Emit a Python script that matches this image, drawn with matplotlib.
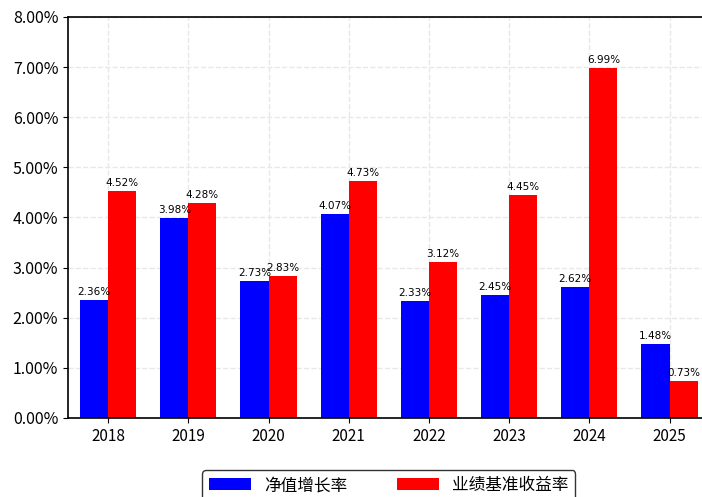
import numpy as np
import matplotlib
matplotlib.use('Agg')
import matplotlib.pyplot as plt
from matplotlib.ticker import FuncFormatter

plt.rcParams['font.family'] = ['Noto Sans CJK SC', 'DejaVu Sans']
plt.rcParams['axes.unicode_minus'] = False

years = ['2018', '2019', '2020', '2021', '2022', '2023', '2024', '2025']
nav_growth = [2.36, 3.98, 2.73, 4.07, 2.33, 2.45, 2.62, 1.48]
benchmark = [4.52, 4.28, 2.83, 4.73, 3.12, 4.45, 6.99, 0.73]

fig = plt.figure(figsize=(7.02, 4.97), dpi=100)
ax = fig.add_axes([0.0969, 0.159, 0.914, 0.8068])

x = np.arange(len(years))
w = 0.35
b1 = ax.bar(x - w / 2, nav_growth, w, color='#0000ff', label='净值增长率', zorder=2)
b2 = ax.bar(x + w / 2, benchmark, w, color='#ff0000', label='业绩基准收益率', zorder=2)

for bars in (b1, b2):
    for r in bars:
        h = r.get_height()
        ax.text(r.get_x() + r.get_width() / 2, h + 0.06, '%.2f%%' % h,
                ha='center', va='bottom', fontsize=7.5, family='DejaVu Sans')

ax.set_xlim(-0.5, 7.5)
ax.set_ylim(0, 8)
ax.set_xticks(x)
ax.set_xticklabels(years, fontsize=11)
ax.set_yticks(np.arange(0, 9, 1))
ax.yaxis.set_major_formatter(FuncFormatter(lambda v, p: '%.2f%%' % v))
ax.tick_params(axis='y', labelsize=11.5)
ax.grid(True, linestyle='--', color='#e8e8e8', linewidth=1, zorder=0)
for s in ax.spines.values():
    s.set_linewidth(1.2)

ax.legend(loc='upper center', bbox_to_anchor=(0.5, -0.11), ncol=2,
          fontsize=12, frameon=True, edgecolor='black', fancybox=True,
          handlelength=2.5, columnspacing=3)

fig.savefig('out.png', dpi=100)
